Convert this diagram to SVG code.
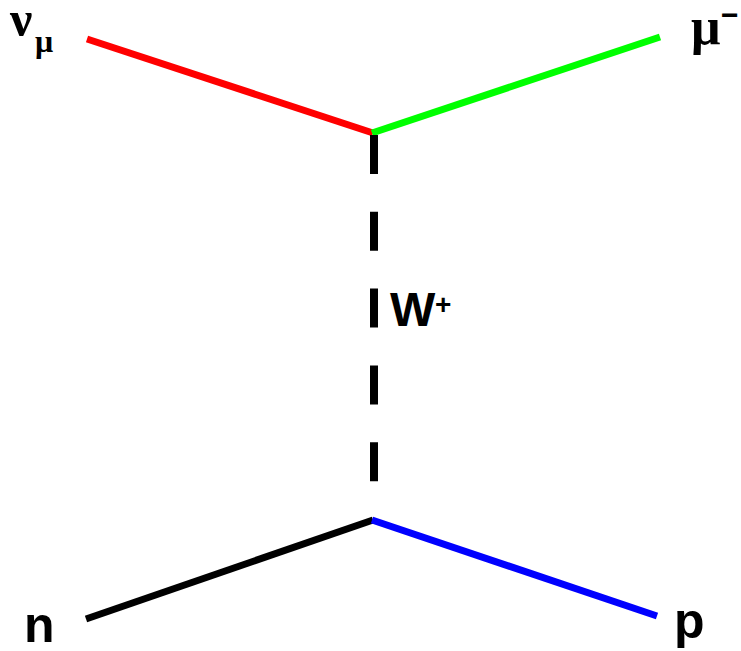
<svg xmlns="http://www.w3.org/2000/svg" width="741" height="651" viewBox="0 0 741 651">
<style>
.l{stroke-width:7;fill:none;stroke-linecap:butt}
.t{font-family:"Liberation Sans",Arial,sans-serif;font-weight:bold;fill:#000}
.g{font-family:"Liberation Serif","Times New Roman",serif;font-weight:bold;fill:#000}
</style>
<rect width="741" height="651" fill="#fff"/>
<g id="connectors">
<line class="l" x1="87" y1="39" x2="373" y2="133" stroke="#ff0000"/>
<line class="l" x1="372" y1="133" x2="660" y2="37" stroke="#00ff00"/>
<line class="l" x1="86" y1="619" x2="373" y2="520" stroke="#000"/>
<line class="l" x1="372" y1="520" x2="657" y2="616" stroke="#0000ff"/>
<line x1="374" y1="135" x2="374" y2="482" stroke="#000" stroke-width="8" stroke-dasharray="39 37.8"/>
</g>
<g id="nu_mu"><text class="g" x="10" y="36" font-size="50">ν</text><text class="g" x="35" y="52" font-size="32">μ</text></g>
<g id="mu_minus"><text class="g" x="691" y="44" font-size="52">μ</text><text class="t" x="721" y="25" font-size="30">−</text></g>
<g id="W_plus"><text class="t" x="390" y="326" font-size="48">W</text><text class="t" x="435" y="314" font-size="28">+</text></g>
<g id="n"><text class="t" x="24" y="642" font-size="50">n</text></g>
<g id="p"><text class="t" x="674" y="638" font-size="50">p</text></g>
</svg>
